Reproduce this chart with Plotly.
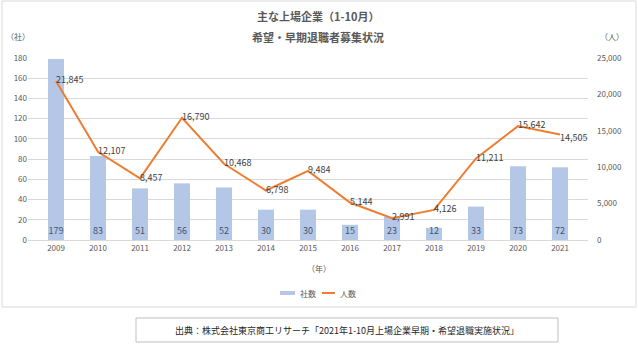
import plotly.graph_objects as go

years = ["2009", "2010", "2011", "2012", "2013", "2014", "2015",
         "2016", "2017", "2018", "2019", "2020", "2021"]
companies = [179, 83, 51, 56, 52, 30, 30, 15, 23, 12, 33, 73, 72]
people = [21845, 12107, 8457, 16790, 10468, 6798, 9484,
          5144, 2991, 4126, 11211, 15642, 14505]
label_pos = ["middle right"] * 12 + ["bottom right"]

FONT = "Noto Sans CJK JP"
GRAY = "#595959"
BAR_COLOR = "#B4C7E7"
LINE_COLOR = "#ED7D31"

W, H = 638, 344
L, R, T, B = 28, 50, 58, 104
PW, PH = W - L - R, H - T - B


def px(x):
    return (x - L) / PW


def py(y):
    return (H - B - y) / PH


fig = go.Figure()

fig.add_trace(go.Bar(
    x=years, y=companies, name="社数",
    marker=dict(color=BAR_COLOR, line=dict(width=0)),
    width=0.38,
    text=[str(v) for v in companies],
    textposition="inside", insidetextanchor="start",
    textangle=0, constraintext="none",
    textfont=dict(family=FONT, size=9, color="#44546A"),
    yaxis="y",
))

fig.add_trace(go.Scatter(
    x=years, y=people, name="人数", mode="lines+text",
    line=dict(color=LINE_COLOR, width=2),
    text=[f"{v:,}" for v in people],
    textposition=label_pos,
    textfont=dict(family=FONT, size=9, color="#404040"),
    yaxis="y2",
))

fig.update_layout(
    width=W, height=H,
    margin=dict(l=L, r=R, t=T, b=B),
    paper_bgcolor="white", plot_bgcolor="white",
    font=dict(family=FONT, size=8, color=GRAY),
    showlegend=False,
    xaxis=dict(showgrid=False, showline=True, linecolor="#D9D9D9",
               ticks="", tickfont=dict(size=8, color=GRAY)),
    yaxis=dict(range=[0, 180], dtick=20, showgrid=True, gridcolor="#D9D9D9",
               gridwidth=1, zeroline=False, ticks="",
               tickfont=dict(size=8, color=GRAY)),
    yaxis2=dict(range=[0, 25000], dtick=5000, overlaying="y", side="right",
                showgrid=False, zeroline=False, tickformat=",d", ticks="",
                ticklabelstandoff=8,
                tickfont=dict(size=8, color=GRAY)),
)

annotations = [
    dict(text="<b>主な上場企業（1-10月）</b>", x=px(318), y=py(16),
         font=dict(size=11, color=GRAY)),
    dict(text="<b>希望・早期退職者募集状況</b>", x=px(318), y=py(37),
         font=dict(size=11, color=GRAY)),
    dict(text="（社）", x=px(18), y=py(37), font=dict(size=8, color=GRAY)),
    dict(text="（人）", x=px(612), y=py(37), font=dict(size=8, color=GRAY)),
    dict(text="（年）", x=px(319), y=py(268), font=dict(size=8, color=GRAY)),
    dict(text="出典：株式会社東京商工リサーチ「2021年1-10月上場企業早期・希望退職実施状況」",
         x=px(347), y=py(330), font=dict(size=9, color="#262626")),
    # legend labels
    dict(text="社数", x=px(298), y=py(293), xanchor="left",
         font=dict(size=8, color=GRAY)),
    dict(text="人数", x=px(338), y=py(293), xanchor="left",
         font=dict(size=8, color=GRAY)),
]
for a in annotations:
    a.setdefault("xanchor", "center")
    a.update(xref="paper", yref="paper", showarrow=False, yanchor="middle")
fig.update_layout(annotations=annotations)

fig.update_layout(shapes=[
    # outer chart frame
    dict(type="rect", xref="paper", yref="paper",
         x0=px(2), x1=px(636), y0=py(307), y1=py(1),
         line=dict(color="#D9D9D9", width=1)),
    # source box
    dict(type="rect", xref="paper", yref="paper",
         x0=px(136), x1=px(558), y0=py(342), y1=py(318),
         line=dict(color="#BFBFBF", width=1)),
    # legend swatches
    dict(type="rect", xref="paper", yref="paper",
         x0=px(280), x1=px(295), y0=py(295), y1=py(291),
         fillcolor=BAR_COLOR, line=dict(width=0)),
    dict(type="line", xref="paper", yref="paper",
         x0=px(322), x1=px(335), y0=py(293), y1=py(293),
         line=dict(color=LINE_COLOR, width=2)),
])

fig.write_html("out.html")
